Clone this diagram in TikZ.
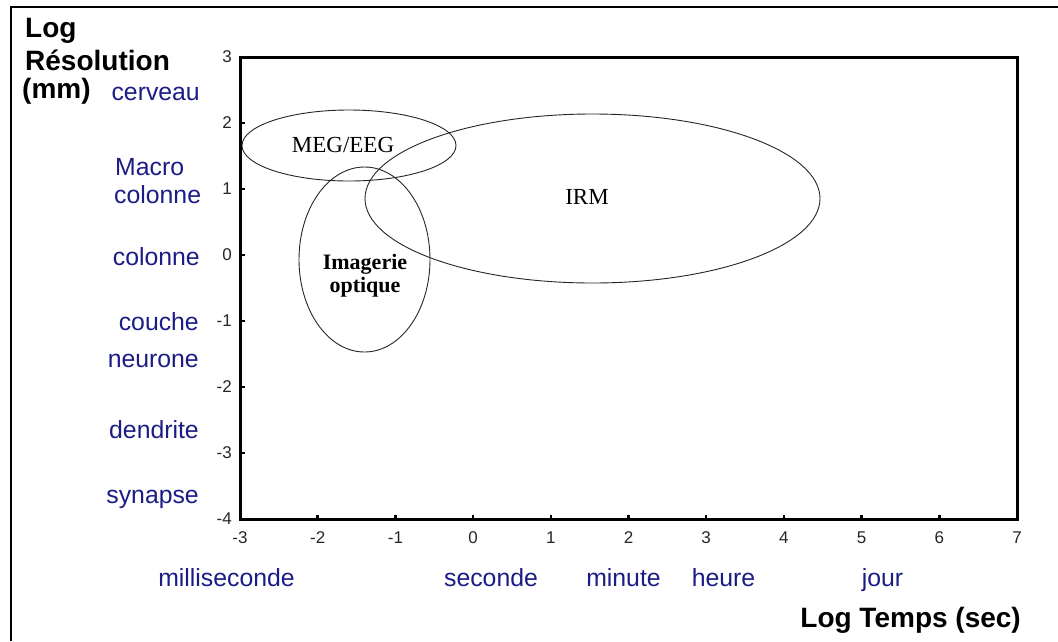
\documentclass[tikz,border=0pt]{standalone}
\usepackage{fontspec}
\setmainfont{Liberation Serif}
\newfontfamily\arialf{Liberation Sans}
\usetikzlibrary{shapes.geometric}
\definecolor{navy}{RGB}{28,28,135}
\begin{document}
\begin{tikzpicture}[x=1pt,y=-1pt,
  lab/.style={font=\arialf\fontsize{24.8}{29.5}\selectfont, text=navy, inner sep=0pt},
  num/.style={font=\arialf\fontsize{17}{20}\selectfont, text=black!85, inner sep=0pt},
  ttl/.style={font=\arialf\bfseries\fontsize{28}{32}\selectfont, inner sep=0pt},
  zone/.style={ellipse, draw=black!85, line width=0.9pt, inner sep=0pt},
  zlab/.style={font=\fontsize{23}{27}\selectfont, inner sep=0pt},
  zlabb/.style={font=\bfseries\fontsize{22}{23}\selectfont, inner sep=0pt, align=center}]
\useasboundingbox (0,0) rectangle (1058,641);
\fill[white] (0,0) rectangle (1058,641);
% outer frame (left and top only)
\draw[line width=2.5pt] (11,641) -- (11,7) -- (1058,7);

% plot in data coordinates
\begin{scope}[shift={(473.1,255)}, x=77.7pt, y=66pt]
  \draw[line width=3pt] (-3,-4) rectangle (7,3);
  \foreach \t in {-2,...,6} \draw[line width=2.5pt] (\t,-4) -- ++(0,4pt);
  \foreach \v in {-3,...,2} \draw[line width=2.5pt] (-3,\v) -- ++(5pt,0);
  \foreach \t in {-3,...,7} \node[num] (xt\t) at (\t,-4) [yshift=-19pt] {\t};
  \foreach \v in {-4,...,3} \node[num, anchor=east] (yt\v) at (-3,\v) [xshift=-8pt] {\v};
\end{scope}

% zones
\node[zone, minimum width=214pt, minimum height=71pt] (meg) at (349,145.5) {};
\node[zone, minimum width=131pt, minimum height=185pt] (opt) at (364.5,259.5) {};
\node[zone, minimum width=455pt, minimum height=169pt] (irm) at (592.5,198.5) {};
\node[zlab] (megl) at (343,145) {MEG/EEG};
\node[zlab] (irml) at (587,197) {IRM};
\node[zlabb, anchor=base] (optl) at (365,292) {Imagerie\\optique};

% axis titles
\node[ttl, anchor=base west] (t1) at (25,37) {Log};
\node[ttl, anchor=base west] (t2) at (25,70) {Résolution};
\node[ttl, anchor=base west] (t3) at (22,98) {(mm)};
\node[ttl, anchor=base east] (tx) at (1021,627) {Log Temps (sec)};

% spatial scale labels
\node[lab, anchor=base east] (l1) at (200,100) {cerveau};
\node[lab, anchor=base west] (l2a) at (115,175) {Macro};
\node[lab, anchor=base west] (l2b) at (114,203) {colonne};
\node[lab, anchor=base east] (l3) at (200,265) {colonne};
\node[lab, anchor=base east] (l4) at (199,330) {couche};
\node[lab, anchor=base east] (l5) at (199,367) {neurone};
\node[lab, anchor=base east] (l6) at (199,438) {dendrite};
\node[lab, anchor=base east] (l7) at (199,503) {synapse};

% temporal scale labels
\node[lab, anchor=base] (m1) at (226.5,586) {milliseconde};
\node[lab, anchor=base] (m2) at (491,586) {seconde};
\node[lab, anchor=base] (m3) at (623.5,586) {minute};
\node[lab, anchor=base] (m4) at (723.5,586) {heure};
\node[lab, anchor=base] (m5) at (882.5,586) {jour};
\end{tikzpicture}
\end{document}
